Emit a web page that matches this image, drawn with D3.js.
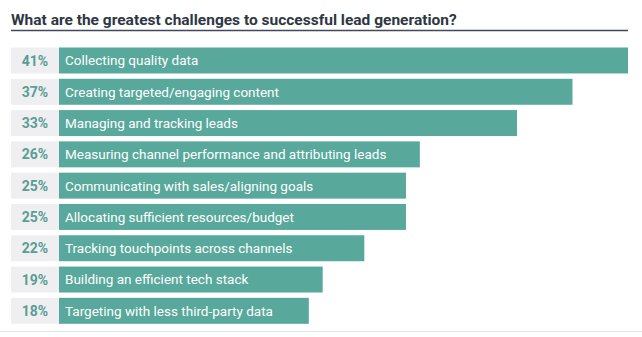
<!DOCTYPE html>
<html>
<head>
<meta charset="utf-8">
<script src="https://cdn.jsdelivr.net/npm/d3@7"></script>
<style>
  body { margin: 0; background: #fff; }
  svg { display: block; }
</style>
</head>
<body>
<div id="chart"></div>
<script>
var title = "What are the greatest challenges to successful lead generation?";
var challenges = [
  "Collecting quality data",
  "Creating targeted/engaging content",
  "Managing and tracking leads",
  "Measuring channel performance and attributing leads",
  "Communicating with sales/aligning goals",
  "Allocating sufficient resources/budget",
  "Tracking touchpoints across channels",
  "Building an efficient tech stack",
  "Targeting with less third-party data"
];
var shares = [41, 37, 33, 26, 25, 25, 22, 19, 18];

var color = {"bar": "#58a89b", "pct": "#5a9d93", "box": "#efeff1", "title": "#2f3742", "rule": "#3f4a58"};

var width = 642, height = 337;
var svg = d3.select("#chart").append("svg")
  .attr("width", width)
  .attr("height", height);

// heading and rule under it
svg.append("text")
  .attr("x", 11)
  .attr("y", 25)
  .style("font-family", "Roboto, 'Open Sans', sans-serif")
  .style("font-weight", "700")
  .style("font-size", "15.5px")
  .style("fill", color["title"])
  .text(title);

svg.append("line")
  .attr("x1", 11).attr("x2", 628)
  .attr("y1", 30.5).attr("y2", 30.5)
  .style("stroke", color["rule"])
  .style("stroke-width", 1.3);

var x = d3.scaleLinear().domain([0, 41]).range([59, 628]);
var y = d3.scaleBand().domain(d3.range(challenges.length))
  .range([47.5, 47.5 + 30.7 * challenges.length])
  .paddingInner(0.17).paddingOuter(0);

var rows = svg.append("g").attr("id", "rows")
  .selectAll("g")
  .data(challenges)
  .enter()
  .append("g")
  .attr("transform", function(d, i) { return "translate(0," + y(i) + ")"; });

rows.append("rect")
  .attr("x", 11)
  .attr("width", x(0) - 11)
  .attr("height", y.bandwidth())
  .style("fill", color["box"]);

rows.append("rect")
  .attr("x", x(0))
  .attr("width", function(d, i) { return x(shares[i]) - x(0); })
  .attr("height", y.bandwidth())
  .style("fill", color["bar"]);

rows.append("text")
  .attr("x", 35)
  .attr("y", y.bandwidth() / 2)
  .attr("dy", "0.36em")
  .attr("text-anchor", "middle")
  .style("font-family", "Roboto, sans-serif")
  .style("font-weight", "700")
  .style("font-size", "14px")
  .style("fill", color["pct"])
  .text(function(d, i) { return shares[i] + "%"; });

rows.append("text")
  .attr("x", x(0) + 6)
  .attr("y", y.bandwidth() / 2)
  .attr("dy", "0.36em")
  .style("font-family", "Roboto, sans-serif")
  .style("font-size", "13.5px")
  .style("fill", "#ffffff")
  .text(function(d) { return d; });

// light divider at the bottom
svg.append("line")
  .attr("x1", 0).attr("x2", width)
  .attr("y1", 331.5).attr("y2", 331.5)
  .style("stroke", "#e6e6e8")
  .style("stroke-width", 1);
</script>
</body>
</html>
